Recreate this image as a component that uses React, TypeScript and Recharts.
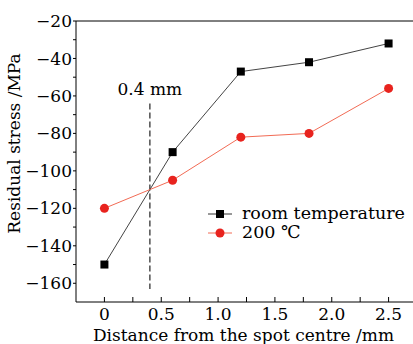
import React from 'react';
import { LineChart, Line, XAxis, YAxis, ReferenceLine } from 'recharts';

const distance = [0, 0.6, 1.2, 1.8, 2.5];
const roomTemp = [-150, -90, -47, -42, -32];
const hot200 = [-120, -105, -82, -80, -56];

const xTicks = [0, 0.25, 0.5, 0.75, 1, 1.25, 1.5, 1.75, 2, 2.25, 2.5];
const yTicks = [-160, -150, -140, -130, -120, -110, -100, -90, -80, -70, -60, -50, -40, -30, -20];

const FONT = '"DejaVu Serif", serif';
const X_TICK_GAP = 6;

const chartData = distance.map((d, i) => ({
  distance: d,
  room: roomTemp[i],
  hot: hot200[i],
}));

const SquareDot = (props: any) => {
  const { cx, cy, index } = props;
  if (cx == null || cy == null) return null;
  return <rect key={`sq-${index}`} x={cx - 4} y={cy - 4} width={8} height={8} fill="#000" />;
};

// x ticks point inwards, labels only on the half units
const XTick = (props: any) => {
  const { x, y, payload } = props;
  const v = payload.value;
  const axisY = y - X_TICK_GAP;
  const major = Math.abs((v * 2) % 1) < 1e-9;
  return (
    <g>
      <line x1={x} x2={x} y1={axisY} y2={axisY - 5} stroke="#000" />
      {major && (
        <text x={x} y={axisY + 18} textAnchor="middle" fill="#000" fontSize={17} fontFamily={FONT}>
          {v === 0 ? '0' : v.toFixed(1)}
        </text>
      )}
    </g>
  );
};

// legend is drawn as an overlay so it does not take space from the plot
const LegendBox = () => (
  <div style={{ position: 'absolute', left: 208, top: 204, fontFamily: FONT, fontSize: 17.5, color: '#000' }}>
    <div style={{ display: 'flex', alignItems: 'center', height: 19 }}>
      <svg width={26} height={18}>
        <line x1={0} y1={9} x2={24} y2={9} stroke="#333" strokeWidth={1} />
        <rect x={8} y={5} width={8} height={8} fill="#000" />
      </svg>
      <span style={{ marginLeft: 8, lineHeight: '19px' }}>room temperature</span>
    </div>
    <div style={{ display: 'flex', alignItems: 'center', height: 19 }}>
      <svg width={26} height={18}>
        <line x1={0} y1={9} x2={24} y2={9} stroke="#f26b55" strokeWidth={1} />
        <circle cx={12} cy={9} r={4.5} fill="#e8231e" />
      </svg>
      <span style={{ marginLeft: 8, lineHeight: '19px' }}>200 ℃</span>
    </div>
  </div>
);

const App: React.FC = () => {
  return (
    <div style={{ position: 'absolute', left: 0, top: 0, width: 413, height: 344, overflow: 'hidden', background: '#fff' }}>
      <LineChart
        width={420}
        height={344}
        data={chartData}
        margin={{ top: 21, right: 3, left: 0, bottom: 0 }}
      >
        <XAxis
          dataKey="distance"
          type="number"
          domain={[-0.25, 2.75]}
          ticks={xTicks}
          interval={0}
          height={42}
          stroke="#000"
          tickLine={false}
          tickSize={0}
          tickMargin={X_TICK_GAP}
          tick={<XTick />}
          label={{
            value: 'Distance from the spot centre /mm',
            position: 'insideBottom',
            offset: 3,
            dx: -3,
            fill: '#000',
            fontSize: 17,
            fontFamily: FONT,
          }}
        />
        <YAxis
          type="number"
          domain={[-170, -20]}
          ticks={yTicks}
          interval={0}
          width={76}
          stroke="#000"
          tickSize={3}
          tickMargin={1}
          tick={{ fill: '#000', fontSize: 17, fontFamily: FONT }}
          tickFormatter={(v) => (v % 20 === 0 ? `\u2212${Math.abs(v)}` : '')}
          label={{
            value: 'Residual stress /MPa',
            angle: -90,
            position: 'insideLeft',
            offset: 0,
            dx: 14,
            dy: -18,
            fill: '#000',
            fontSize: 17,
            fontFamily: FONT,
            style: { textAnchor: 'middle' },
          }}
        />
        <ReferenceLine y={-20} stroke="#000" />
        <ReferenceLine
          segment={[{ x: 0.4, y: -64 }, { x: 0.4, y: -163 }]}
          stroke="#333"
          strokeWidth={1.3}
          strokeDasharray="6 3"
          label={{ value: '0.4 mm', position: 'top', offset: 8, fill: '#000', fontSize: 17, fontFamily: FONT }}
        />
        <Line
          dataKey="room"
          stroke="#444"
          strokeWidth={1}
          dot={<SquareDot />}
          isAnimationActive={false}
        />
        <Line
          dataKey="hot"
          stroke="#f26b55"
          strokeWidth={1}
          dot={{ r: 4.5, fill: '#e8231e', stroke: 'none' }}
          isAnimationActive={false}
        />
      </LineChart>
      <LegendBox />
    </div>
  );
};

export default App;
